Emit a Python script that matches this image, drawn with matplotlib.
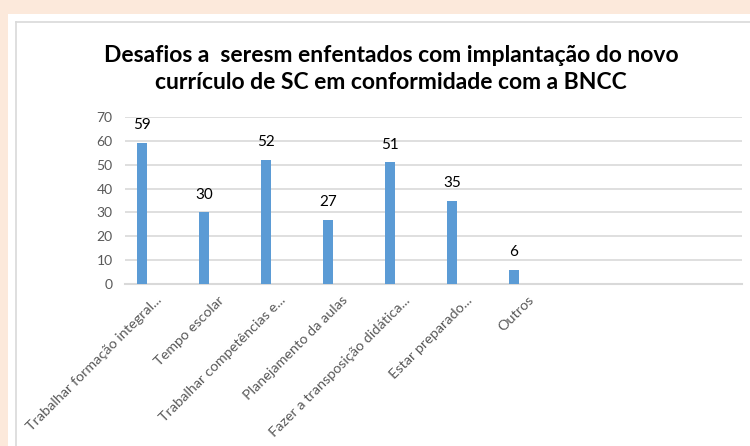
import numpy as np
import matplotlib
matplotlib.use("Agg")
import matplotlib.pyplot as plt
import matplotlib.transforms as mtrans
from matplotlib.patches import Rectangle
from matplotlib.lines import Line2D

plt.rcParams['font.family'] = ['Lato', 'DejaVu Sans']

# data
categorias = ['Trabalhar formação integral...', 'Tempo escolar',
              'Trabalhar competências e...', 'Planejamento da aulas',
              'Fazer a transposição didática...', 'Estar preparado...', 'Outros']
valores = [59, 30, 52, 27, 51, 35, 6]
titulo = 'Desafios a  seresm enfentados com implantação do novo\ncurrículo de SC em conformidade com a BNCC'
yticks = [0, 10, 20, 30, 40, 50, 60, 70]

W, H = 750, 446
fig = plt.figure(figsize=(W / 100, H / 100), dpi=100)
fig.patch.set_facecolor('#FCE9DB')

# white panel + chart border
fig.patches.append(Rectangle((8 / W, 0), 1, 1 - 14 / H, transform=fig.transFigure,
                             facecolor='white', edgecolor='none', zorder=-5))
fig.lines.append(Line2D([15.5 / W, 1], [1 - 21.5 / H, 1 - 21.5 / H], transform=fig.transFigure,
                        color='#D9D9D9', lw=1.2, zorder=-4))
fig.lines.append(Line2D([15.5 / W, 15.5 / W], [0, 1 - 21.5 / H], transform=fig.transFigure,
                        color='#D9D9D9', lw=1.2, zorder=-4))

ax = fig.add_axes([125 / W, 1 - 284.3 / H, (742 - 125) / W, (284.3 - 116.7) / H])
ax.set_facecolor('none')

x = np.arange(len(valores))
xb = x - 0.23
ax.bar(xb, valores, width=0.165, color='#5B9BD5', zorder=3)
for xi, v in zip(xb, valores):
    ax.annotate(str(v), (xi, v), xytext=(0, 12.7), textcoords='offset points',
                ha='center', va='center', fontsize=11, color='black')

ax.set_xlim(-0.5, 9.45)
ax.set_ylim(0, 70)
ax.set_yticks(yticks)
ax.yaxis.grid(True, color='#D9D9D9', lw=1.2, zorder=0)
ax.tick_params(axis='y', length=0, pad=9, labelsize=10, labelcolor='#595959')
for s in ['top', 'right', 'left']:
    ax.spines[s].set_visible(False)
ax.spines['bottom'].set_color('#D9D9D9')
ax.spines['bottom'].set_linewidth(1.5)

ax.set_xticks(x)
ax.set_xticklabels(categorias, rotation=45, ha='right', va='center',
                   rotation_mode='anchor', fontsize=10.4, color='#595959')
ax.tick_params(axis='x', length=0, pad=10)
shift = mtrans.ScaledTranslation(4 / 100, 0, fig.dpi_scale_trans)
for lbl in ax.get_xticklabels():
    lbl.set_transform(lbl.get_transform() + shift)

fig.text(391 / W, 1 - 69 / H, titulo, ha='center', va='center', fontsize=16.5,
         fontweight='bold', color='black', linespacing=1.3)

fig.savefig('out.png', dpi=100, facecolor=fig.get_facecolor())
